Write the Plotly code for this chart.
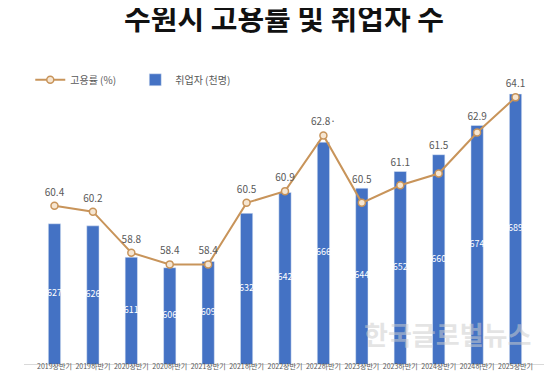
import plotly.graph_objects as go

categories = ["2019상반기", "2019하반기", "2020상반기", "2020하반기", "2021상반기", "2021하반기",
              "2022상반기", "2022하반기", "2023상반기", "2023하반기", "2024상반기", "2024하반기", "2025상반기"]
employed = [627, 626, 611, 606, 609, 632, 642, 666, 644, 652, 660, 674, 689]
rate = [60.4, 60.2, 58.8, 58.4, 58.4, 60.5, 60.9, 62.8, 60.5, 61.1, 61.5, 62.9, 64.1]
rate_labels = ["60.4", "60.2", "58.8", "58.4", "58.4", "60.5", "60.9", "62.8·", "60.5", "61.1", "61.5", "62.9", "64.1"]

FONT = "Noto Sans CJK KR"
BAR = "#4472C4"
LINE = "#C8945A"

Y1 = (560, 700)
Y2 = (55, 65)

# label positions: above the marker, or above the bar top if the bar is higher
def bar_top_in_y2(v):
    return Y2[0] + (v - Y1[0]) / (Y1[1] - Y1[0]) * (Y2[1] - Y2[0])

label_y = [max(r + 0.43, bar_top_in_y2(v) + 0.27) for r, v in zip(rate, employed)]
bar_mid = [(Y1[0] + v) / 2 for v in employed]

fig = go.Figure()
fig.add_trace(go.Bar(
    x=categories, y=employed, name="취업자 (천명)",
    marker=dict(color=BAR), width=0.32, yaxis="y",
))
fig.add_trace(go.Scatter(
    x=categories, y=bar_mid, mode="text", text=[str(v) for v in employed],
    textposition="middle center", textfont=dict(color="white", size=9, family=FONT),
    showlegend=False, hoverinfo="skip", yaxis="y",
))
fig.add_trace(go.Scatter(
    x=categories, y=rate, name="고용률 (%)", mode="lines+markers",
    line=dict(color=LINE, width=2),
    marker=dict(symbol="circle", size=7, color="#F6E6D2", line=dict(color=LINE, width=1.5)),
    cliponaxis=False, yaxis="y2",
))
fig.add_trace(go.Scatter(
    x=categories, y=label_y, mode="text", text=rate_labels, textposition="middle center",
    textfont=dict(color="#595959", size=10, family=FONT),
    showlegend=False, hoverinfo="skip", cliponaxis=False, yaxis="y2",
))

fig.update_layout(
    width=552, height=383,
    margin=dict(l=16, r=14, t=63, b=27),
    paper_bgcolor="white", plot_bgcolor="white",
    font=dict(family=FONT, color="#595959"),
    title=dict(text="<b>수원시 고용률 및 취업자 수</b>", x=0.5, xanchor="center",
               y=0.995, yanchor="top", font=dict(size=29, color="#111111", family=FONT)),
    showlegend=True,
    legend=dict(orientation="h", x=0.012, y=0.97, xanchor="left", yanchor="middle",
                font=dict(size=10, color="#595959", family=FONT), traceorder="reversed",
                itemwidth=30, entrywidth=60, bgcolor="rgba(0,0,0,0)"),
    bargap=0.5,
    xaxis=dict(showgrid=False, showline=True, linecolor="#D9D9D9", linewidth=1, ticks="",
               tickfont=dict(size=7, color="#595959", family=FONT), tickangle=0,
               ticklabelstandoff=-4, automargin=False),
    yaxis=dict(range=list(Y1), visible=False, showgrid=False),
    yaxis2=dict(range=list(Y2), overlaying="y", side="right", visible=False, showgrid=False),
)

fig.add_annotation(text="<b>한국글로벌뉴스</b>", x=0.975, y=0.035, xref="paper", yref="paper",
                   xanchor="right", yanchor="bottom", showarrow=False,
                   font=dict(size=26, color="rgba(205,205,205,0.55)", family=FONT))

fig.write_html("out.html")
